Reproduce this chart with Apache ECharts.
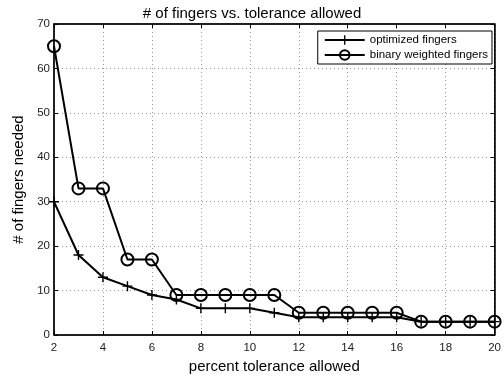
<!DOCTYPE html>
<html><head><meta charset="utf-8">
<script src="https://cdn.jsdelivr.net/npm/echarts@6/dist/echarts.min.js"></script>
<style>html,body{margin:0;padding:0;background:#fff}#c{width:504px;height:379px}</style>
</head><body><div id="c"></div>
<script>
const tolerance = [2,3,4,5,6,7,8,9,10,11,12,13,14,15,16,17,18,19,20];
const optimized = [30,18,13,11,9,8,6,6,6,5,4,4,4,4,4,3,3,3,3];
const binary = [65,33,33,17,17,9,9,9,9,9,5,5,5,5,5,3,3,3,3];
const titleText = '# of fingers vs. tolerance allowed';
const xName = 'percent tolerance allowed';
const yName = '# of fingers needed';
const names = ['optimized fingers','binary weighted fingers'];

const F = '"Liberation Sans", Arial, sans-serif';
const plus = 'path://M4.3,0H5.7V4.3H10V5.7H5.7V10H4.3V5.7H0V4.3H4.3Z';
const chart = echarts.init(document.getElementById('c'));
const axCommon = {
  axisLine:{show:true,onZero:false,lineStyle:{color:'#000',width:1.5}},
  axisTick:{show:true,inside:true,length:4,lineStyle:{color:'#000'}},
  axisLabel:{color:'#222',fontFamily:F,fontSize:11.5}
};
chart.setOption({
  animation:false,
  title:{text:titleText,left:'center',top:1,textStyle:{fontFamily:F,fontSize:15,fontWeight:'normal',color:'#000'}},
  grid:{left:54,right:3,top:24,bottom:44,show:true,borderColor:'#000',borderWidth:1},
  legend:{
    orient:'vertical',right:12,top:31,
    backgroundColor:'#fff',borderColor:'#000',borderWidth:1,
    padding:[3,4,3,6],itemGap:3,itemWidth:40,itemHeight:12,
    lineStyle:{width:2},
    textStyle:{fontFamily:F,fontSize:11.5,color:'#000'},
    data:names
  },
  xAxis:[{
    type:'value',min:2,max:20,interval:2,position:'bottom',
    ...axCommon,
    axisLabel:{...axCommon.axisLabel,margin:7},
    splitLine:{show:true,lineStyle:{color:'#999',type:[1,3],width:1}},
    name:xName,nameLocation:'middle',nameGap:22,
    nameTextStyle:{fontFamily:F,fontSize:15,color:'#000'}
  },{
    type:'value',min:2,max:20,interval:2,position:'top',
    ...axCommon, axisLabel:{show:false},splitLine:{show:false}
  }],
  yAxis:[{
    type:'value',min:0,max:70,interval:10,position:'left',
    ...axCommon,
    axisLabel:{...axCommon.axisLabel,margin:4},
    splitLine:{show:true,lineStyle:{color:'#999',type:[1,3],width:1}},
    name:yName,nameLocation:'middle',nameGap:27,
    nameTextStyle:{fontFamily:F,fontSize:15,color:'#000'}
  },{
    type:'value',min:0,max:70,interval:10,position:'right',
    ...axCommon, axisLabel:{show:false},splitLine:{show:false}
  }],
  series:[{
    name:names[1],type:'line',
    data:tolerance.map((x,i)=>[x,binary[i]]),
    symbol:'circle',symbolSize:12,
    lineStyle:{color:'#000',width:2},
    itemStyle:{color:'rgba(0,0,0,0)',borderColor:'#000',borderWidth:2},
    z:2
  },{
    name:names[0],type:'line',
    data:tolerance.map((x,i)=>[x,optimized[i]]),
    symbol:plus,symbolSize:10,
    lineStyle:{color:'#000',width:2},
    itemStyle:{color:'#000'},
    z:3
  }]
});
</script></body></html>
